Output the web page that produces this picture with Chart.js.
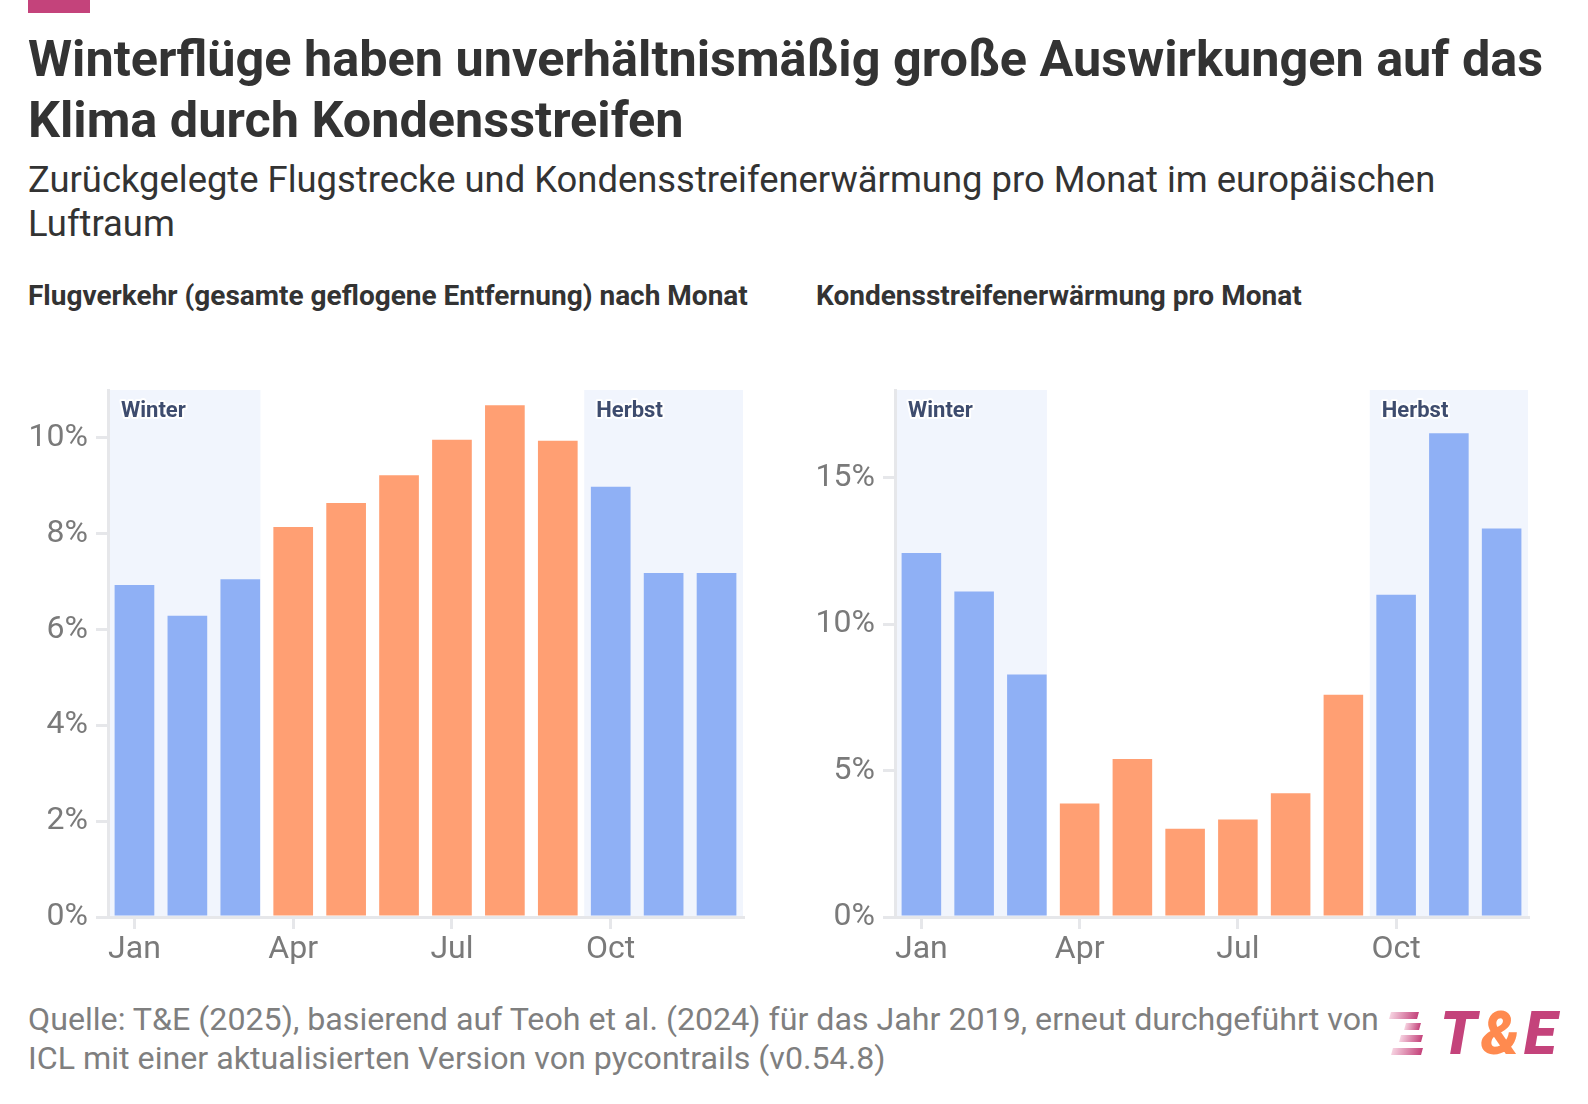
<!DOCTYPE html>
<html lang="de">
<head>
<meta charset="utf-8">
<title>Winterflüge und Kondensstreifen</title>
<script src="https://cdn.jsdelivr.net/npm/chart.js@4.4.1/dist/chart.umd.min.js"></script>
<style>
    html, body { margin: 0; padding: 0; background: #fff; }
    body { width: 1588px; height: 1104px; position: relative; overflow: hidden; font-family: Roboto, "Noto Sans", sans-serif; color: #333; }
    .accent { position: absolute; left: 28px; top: 0; width: 62px; height: 13px; background: #c4437b; }
    h1 { position: absolute; left: 28px; top: 28px; width: 1550px; margin: 0; font-size: 50.4px; line-height: 61px; font-weight: 700; color: #333; }
    .sub { position: absolute; left: 28px; top: 158px; width: 1500px; font-size: 36.4px; line-height: 44px; color: #333; }
    .panel-title { position: absolute; top: 279px; font-size: 28px; font-weight: 700; color: #333; white-space: nowrap; }
    .chart-box { position: absolute; top: 370px; width: 755px; height: 620px; }
    .footer { position: absolute; left: 28px; top: 1000px; width: 1385px; font-size: 32.2px; line-height: 39px; color: #7f7f7f; }
    .logo { position: absolute; left: 1390px; top: 1012px; width: 180px; height: 50px; }
    .logo .stripe { position: absolute; height: 7px; background: linear-gradient(90deg, #f6d3e1, #c4437b); transform: skewX(-15deg); }
    .logo .txt { position: absolute; left: 50px; top: -8px; font-size: 60px; line-height: 60px; font-weight: 900; font-style: italic; color: #c4437b; letter-spacing: 4px; }
    .logo .txt span { color: #ff8a4f; }
</style>
</head>
<body>
<div class="accent"></div>
<h1>Winterflüge haben unverhältnismäßig große Auswirkungen auf das Klima durch Kondensstreifen</h1>
<div class="sub">Zurückgelegte Flugstrecke und Kondensstreifenerwärmung pro Monat im europäischen Luftraum</div>

<div class="panel-title" style="left:28px">Flugverkehr (gesamte geflogene Entfernung) nach Monat</div>
<div class="panel-title" style="left:816px">Kondensstreifenerwärmung pro Monat</div>

<div class="chart-box" style="left:0px"><canvas id="traffic-chart"></canvas></div>
<div class="chart-box" style="left:787px"><canvas id="contrail-chart"></canvas></div>

<div class="footer">Quelle: T&amp;E (2025), basierend auf Teoh et al. (2024) für das Jahr 2019, erneut durchgeführt von ICL mit einer aktualisierten Version von pycontrails (v0.54.8)</div>

<div class="logo">
    <div class="stripe" style="left:0px;top:0px;width:28px"></div>
    <div class="stripe" style="left:15px;top:11px;width:15px"></div>
    <div class="stripe" style="left:10px;top:23px;width:22px"></div>
    <div class="stripe" style="left:2px;top:36px;width:30px"></div>
    <div class="txt">T<span>&amp;</span>E</div>
</div>

<script>
// 月ラベル
const months = ['Jan', 'Feb', 'Mar', 'Apr', 'May', 'Jun', 'Jul', 'Aug', 'Sep', 'Oct', 'Nov', 'Dec'];

// 季節（Winter / Sommer / Herbst）
const seasons = ['winter', 'winter', 'winter', 'sommer', 'sommer', 'sommer',
                 'sommer', 'sommer', 'sommer', 'herbst', 'herbst', 'herbst'];

// 飛行距離の割合 (%)
const trafficShare = [6.93, 6.29, 7.05, 8.14, 8.64, 9.22, 9.96, 10.68, 9.94, 8.98, 7.18, 7.18];

// 飛行機雲による温暖化の割合 (%)
const contrailShare = [12.43, 11.12, 8.28, 3.88, 5.40, 3.01, 3.33, 4.23, 7.59, 11.01, 16.52, 13.27];

// y軸の設定
const trafficAxis = { max: 11, step: 2 };
const contrailAxis = { max: 18, step: 5 };

// 背景の季節ラベル
const seasonLabels = ['Winter', 'Herbst'];

const BLUE = '#8fb0f5';
const ORANGE = '#ff9f73';
const SHADE = '#f1f5fd';
const AXIS = '#e6e7ea';
const TICK_TEXT = '#7a7a7a';

const barColors = seasons.map(s => s === 'sommer' ? ORANGE : BLUE);

// 季節の背景を描くプラグイン
const seasonShade = {
    id: 'seasonShade',
    beforeDraw(chart) {
        const { ctx, chartArea } = chart;
        const x = chart.scales.x;
        const cat = x.getPixelForValue(1) - x.getPixelForValue(0);
        const winterEnd = x.getPixelForValue(2) + cat * 0.38;
        const herbstStart = x.getPixelForValue(8) + cat * 0.5;
        ctx.save();
        ctx.fillStyle = SHADE;
        ctx.fillRect(chartArea.left, chartArea.top, winterEnd - chartArea.left, chartArea.bottom - chartArea.top);
        ctx.fillRect(herbstStart, chartArea.top, chartArea.right - herbstStart, chartArea.bottom - chartArea.top);

        ctx.font = 'bold 22px Roboto';
        ctx.textBaseline = 'alphabetic';
        ctx.lineJoin = 'round';
        ctx.lineWidth = 4;
        ctx.strokeStyle = '#ffffff';
        ctx.fillStyle = '#3e4c6e';
        const y = chartArea.top + 27;
        ctx.strokeText(seasonLabels[0], chartArea.left + 13, y);
        ctx.fillText(seasonLabels[0], chartArea.left + 13, y);
        ctx.strokeText(seasonLabels[1], herbstStart + 12, y);
        ctx.fillText(seasonLabels[1], herbstStart + 12, y);
        ctx.restore();
    }
};

function drawMonthChart(canvas, values, axis, padRight) {
    return new Chart(canvas.getContext('2d'), {
        type: 'bar',
        data: {
            labels: months,
            datasets: [{
                data: values,
                backgroundColor: barColors,
                borderWidth: 0,
                categoryPercentage: 1,
                barPercentage: 0.75
            }]
        },
        options: {
            responsive: true,
            maintainAspectRatio: false,
            animation: false,
            layout: { padding: { left: 0, right: padRight, top: 20, bottom: 13 } },
            plugins: {
                legend: { display: false },
                tooltip: { enabled: false }
            },
            scales: {
                x: {
                    afterFit(scale) {
                        scale.height = 60;
                        scale.paddingLeft = 0;
                        scale.paddingRight = 0;
                    },
                    afterBuildTicks(scale) {
                        scale.ticks = scale.ticks.filter(t => t.value % 3 === 0);
                    },
                    grid: {
                        offset: false,
                        drawOnChartArea: false,
                        drawTicks: true,
                        tickLength: 12,
                        color: AXIS,
                        lineWidth: 3
                    },
                    border: { display: true, color: AXIS, width: 3 },
                    ticks: {
                        autoSkip: false,
                        maxRotation: 0,
                        padding: 2,
                        color: TICK_TEXT,
                        font: { family: 'Roboto', size: 32 }
                    }
                },
                y: {
                    min: 0,
                    max: axis.max,
                    afterFit(scale) {
                        scale.width = 108;
                        scale.paddingTop = 0;
                        scale.paddingBottom = 0;
                    },
                    afterBuildTicks(scale) {
                        scale.ticks = scale.ticks.filter(t => t.value % axis.step === 0);
                    },
                    grid: {
                        drawOnChartArea: false,
                        drawTicks: true,
                        tickLength: 12,
                        color: AXIS,
                        lineWidth: 3
                    },
                    border: { display: true, color: AXIS, width: 3 },
                    ticks: {
                        stepSize: axis.step,
                        padding: 8,
                        color: TICK_TEXT,
                        font: { family: 'Roboto', size: 32 },
                        callback: v => v + '%'
                    }
                }
            }
        },
        plugins: [seasonShade]
    });
}

drawMonthChart(document.getElementById('traffic-chart'), trafficShare, trafficAxis, 12);
drawMonthChart(document.getElementById('contrail-chart'), contrailShare, contrailAxis, 14);
</script>
</body>
</html>
